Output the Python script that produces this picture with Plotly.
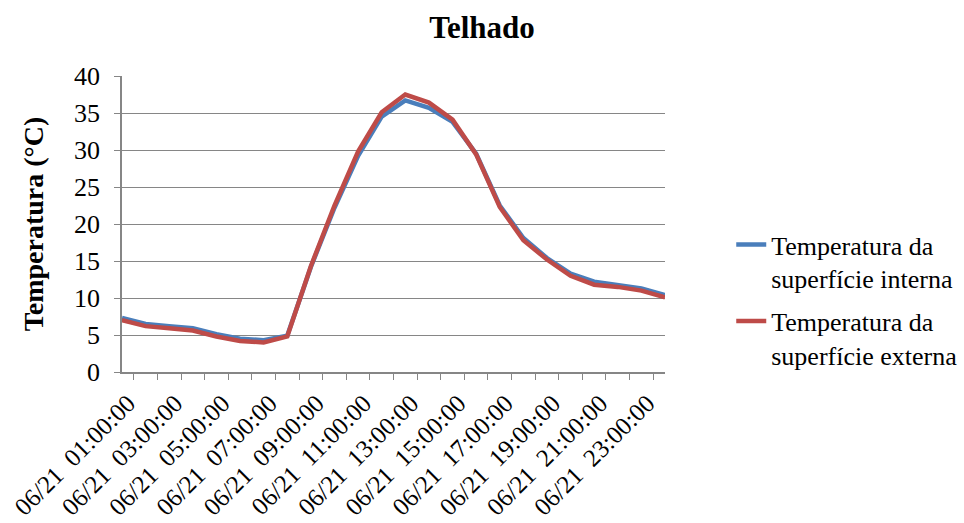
import plotly.graph_objects as go

# Hourly timestamps for 21 June (no-break space keeps the double gap in SVG text)
hours = [f"06/21\u00a0 {h:02d}:00:00" for h in range(1, 24)] + ["06/22\u00a0 00:00:00"]

# Surface temperatures (°C)
temp_interna = [7.3, 6.5, 6.2, 5.9, 5.1, 4.5, 4.3, 4.9, 14.2, 22.2, 29.2, 34.5,
                36.7, 35.7, 33.8, 29.5, 22.5, 18.1, 15.4, 13.3, 12.2, 11.8, 11.3, 10.4]
temp_externa = [7.0, 6.2, 5.9, 5.6, 4.8, 4.2, 4.0, 4.8, 14.3, 22.5, 29.8, 35.1,
                37.5, 36.4, 34.1, 29.4, 22.3, 17.8, 15.2, 13.0, 11.8, 11.5, 11.0, 10.1]

series_names = ["Temperatura da<br>superfície interna", "Temperatura da<br>superfície externa"]
colors = ["#4A7EBB", "#BE4B48"]

# Label every other hour
tick_text = [h if i % 2 == 0 else "" for i, h in enumerate(hours)]

font_family = "Liberation Serif"
grid_color = "#868686"

fig = go.Figure()
for i, (name, vals, col) in enumerate(zip(series_names, [temp_interna, temp_externa], colors)):
    fig.add_trace(go.Scatter(x=hours, y=vals, name=name, mode="lines", legendgroup=f"g{i}",
                             line=dict(color=col, width=4.5)))

fig.update_layout(
    width=964, height=523,
    margin=dict(l=122, r=299, t=76, b=151, autoexpand=False),
    paper_bgcolor="white", plot_bgcolor="white",
    font=dict(family=font_family, size=26, color="black"),
    title=dict(text="<b>Telhado</b>", x=0.5, xanchor="center", y=0.948, yanchor="middle",
               font=dict(family=font_family, size=31, color="black")),
    legend=dict(x=1.122, xanchor="left", y=0.51, yanchor="top",
                font=dict(family=font_family, size=26, color="black"),
                valign="top", tracegroupgap=6, bgcolor="rgba(0,0,0,0)"),
    showlegend=True,
)

fig.update_xaxes(
    type="category", tickmode="array", tickvals=hours, ticktext=tick_text, automargin=False,
    tickangle=-45, tickson="boundaries", ticks="outside", ticklen=6, tickcolor=grid_color,
    showline=True, linecolor=grid_color, linewidth=1.5, showgrid=False,
    ticklabelstandoff=5, ticklabelshift=6,
    tickfont=dict(family=font_family, size=25, color="black"),
)
fig.update_yaxes(
    range=[0, 40], dtick=5, ticks="outside", ticklen=6, tickcolor=grid_color, automargin=False,
    showline=True, linecolor=grid_color, linewidth=1.5, ticklabelstandoff=9,
    showgrid=True, gridcolor=grid_color, gridwidth=1.2, zeroline=False,
    tickfont=dict(family=font_family, size=26, color="black"),
    title=dict(text="<b>Temperatura (°C)</b>", font=dict(family=font_family, size=28, color="black"),
               standoff=22),
)

fig.write_html("out.html")
